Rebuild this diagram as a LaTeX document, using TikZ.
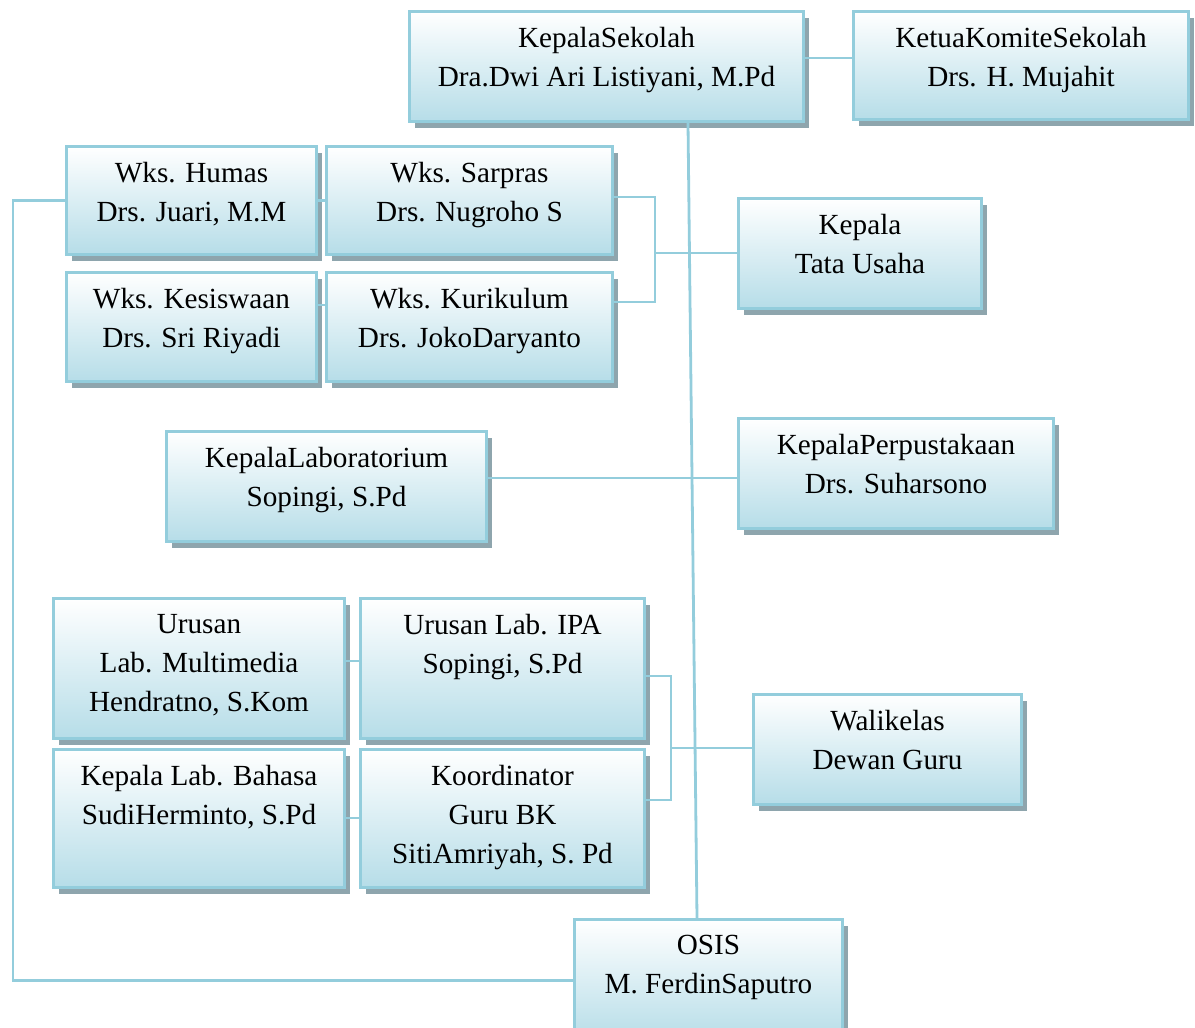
\documentclass[tikz,border=0pt]{standalone}
\usepackage{fontspec}
\setmainfont{Liberation Serif}
\usetikzlibrary{positioning,shadows,calc}
\definecolor{unitline}{HTML}{93CDDC}
\definecolor{unitfill}{HTML}{B6DDE8}
\definecolor{unitshadow}{HTML}{8EA5AD}
\tikzset{
  unitbox/.style={draw=unitline, line width=1.5pt, top color=white, bottom color=unitfill,
    drop shadow={shadow xshift=2.5pt, shadow yshift=-3pt, fill=unitshadow, opacity=1},
    anchor=north west, inner sep=0pt},
  boxsize/.style 2 args={minimum width=#1*0.5pt, minimum height=#2*0.5pt},
  unittext/.style={inner sep=0pt, align=center, font=\fontsize{14.6}{19.5}\selectfont},
  link/.style={draw=unitline, line width=1.4pt}
}
\begin{document}
\begin{tikzpicture}[x=0.5pt, y=-0.5pt]
\useasboundingbox (0,0) rectangle (1195,1028);

% Boxes
\node[unitbox, boxsize={394}{110}] (ks) at (408,10) {};
\node[unittext, below=8.5pt of ks.north] (ks-t) {KepalaSekolah\\Dra.Dwi Ari Listiyani, M.Pd};
\node[unitbox, boxsize={335}{108}] (komite) at (852,10) {};
\node[unittext, below=8.5pt of komite.north] (komite-t) {KetuaKomiteSekolah\\Drs. H. Mujahit};
\node[unitbox, boxsize={250}{108}] (humas) at (65,145) {};
\node[unittext, below=8.5pt of humas.north] (humas-t) {Wks. Humas\\Drs. Juari, M.M};
\node[unitbox, boxsize={286}{108}] (sarpras) at (325,145) {};
\node[unittext, below=8.5pt of sarpras.north] (sarpras-t) {Wks. Sarpras\\Drs. Nugroho S};
\node[unitbox, boxsize={250}{109}] (kesiswaan) at (65,271) {};
\node[unittext, below=8.5pt of kesiswaan.north] (kesiswaan-t) {Wks. Kesiswaan\\Drs. Sri Riyadi};
\node[unitbox, boxsize={286}{109}] (kurikulum) at (325,271) {};
\node[unittext, below=8.5pt of kurikulum.north] (kurikulum-t) {Wks. Kurikulum\\Drs. JokoDaryanto};
\node[unitbox, boxsize={243}{110}] (tu) at (737,197) {};
\node[unittext, below=8.5pt of tu.north] (tu-t) {Kepala\\Tata Usaha};
\node[unitbox, boxsize={320}{110}] (lab) at (165,430) {};
\node[unittext, below=8.5pt of lab.north] (lab-t) {KepalaLaboratorium\\Sopingi, S.Pd};
\node[unitbox, boxsize={315}{110}] (perpus) at (737,417) {};
\node[unittext, below=8.5pt of perpus.north] (perpus-t) {KepalaPerpustakaan\\Drs. Suharsono};
\node[unitbox, boxsize={291}{140}] (multimedia) at (52,597) {};
\node[unittext, below=8.5pt of multimedia.north] (multimedia-t) {Urusan\\Lab. Multimedia\\Hendratno, S.Kom};
\node[unitbox, boxsize={284}{140}] (ipa) at (359,597) {};
\node[unittext, below=8.5pt of ipa.north] (ipa-t) {Urusan Lab. IPA\\Sopingi, S.Pd};
\node[unitbox, boxsize={268}{110}] (walikelas) at (752,693) {};
\node[unittext, below=8.5pt of walikelas.north] (walikelas-t) {Walikelas\\Dewan Guru};
\node[unitbox, boxsize={291}{138}] (bahasa) at (52,748) {};
\node[unittext, below=8.5pt of bahasa.north] (bahasa-t) {Kepala Lab. Bahasa\\SudiHerminto, S.Pd};
\node[unitbox, boxsize={284}{138}] (bk) at (359,748) {};
\node[unittext, below=8.5pt of bk.north] (bk-t) {Koordinator\\Guru BK\\SitiAmriyah, S. Pd};
\node[unitbox, boxsize={268}{122}] (osis) at (573,918) {};
\node[unittext, below=8.5pt of osis.north] (osis-t) {OSIS\\M. FerdinSaputro};

% Connectors
\coordinate (wakil) at (655,253);
\coordinate (urusan) at (671,748);
\coordinate (rail) at (13,0);
\coordinate (pustaka) at ($(lab.north east)+(0,48)$);
\draw[link] ($(ks.north east)+(0,48)$) -- ($(komite.north west)+(0,48)$);
\draw[link] ($(ks.south west)+(280,0)$) -- ($(osis.north west)+(124,0)$);
\draw[link] (humas.east) -- (humas.east -| sarpras.west);
\draw[link] ($(kesiswaan.north east)+(0,34)$) -- ($(kurikulum.north west)+(0,34)$);
\draw[link] ($(sarpras.north east)+(0,52)$) -| (wakil) |- ($(kurikulum.north east)+(0,31)$);
\draw[link] (wakil) -- (wakil -| tu.west);
\draw[link] (humas.west) -| (rail |- osis.west) -- (osis.west);
\draw[link] (pustaka) -- (pustaka -| perpus.west);
\draw[link] ($(multimedia.north east)+(0,64)$) -- ($(ipa.north west)+(0,64)$);
\draw[link] ($(bahasa.north east)+(0,70)$) -- ($(bk.north west)+(0,70)$);
\draw[link] ($(ipa.north east)+(0,79)$) -| (urusan) |- ($(bk.north east)+(0,52)$);
\draw[link] (urusan) -- (urusan -| walikelas.west);
\end{tikzpicture}
\end{document}
